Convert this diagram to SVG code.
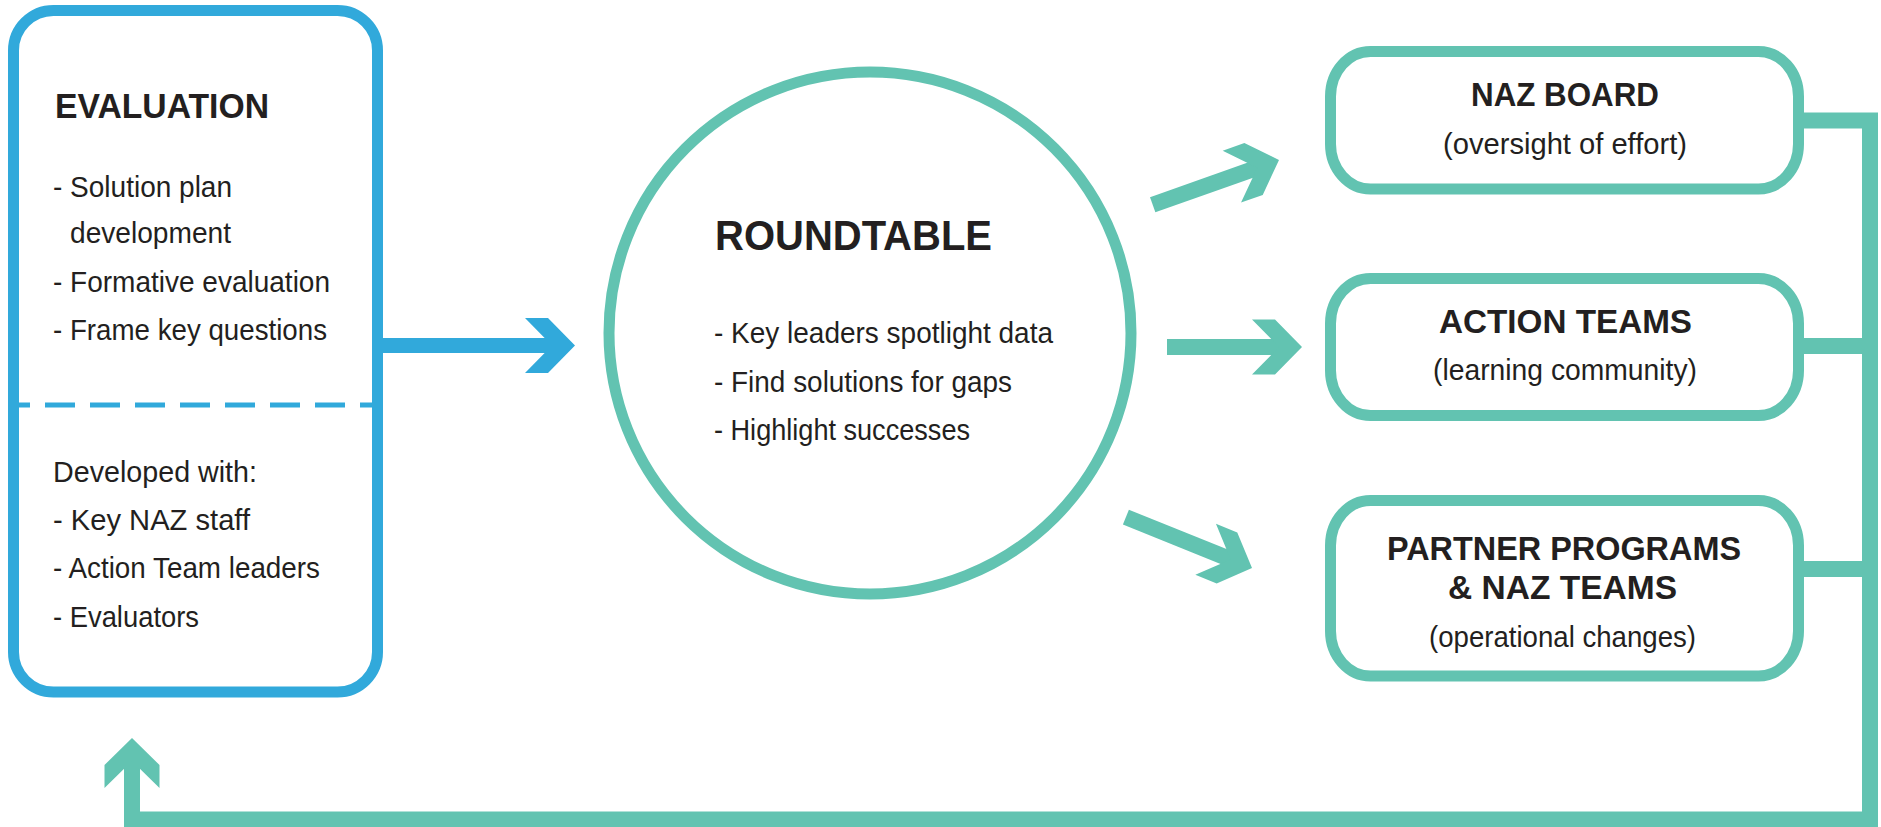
<svg xmlns="http://www.w3.org/2000/svg" xmlns:xlink="http://www.w3.org/1999/xlink" width="1881" height="827" viewBox="0 0 1881 827">
<style>
.bg{fill:#ffffff}
.blue{fill:none;stroke:#31a9db;stroke-width:11}
.teal{fill:none;stroke:#62c3b1;stroke-width:11}
.dash{fill:none;stroke:#31a9db;stroke-width:5;stroke-dasharray:30 15;stroke-dashoffset:19}
.head{font-family:"Liberation Sans",Arial,sans-serif;font-weight:bold;fill:#231f20}
.body{font-family:"Liberation Sans",Arial,sans-serif;font-size:29px;fill:#231f20}
.mid{text-anchor:middle}
.shaftT{fill:none;stroke:#62c3b1;stroke-width:16;stroke-linejoin:miter}
.shaftB{fill:none;stroke:#31a9db;stroke-width:15}
.chevT{fill:#62c3b1}
.chevB{fill:#31a9db}
</style>
<defs>
<path id="chev" d="M -50 -27.5 L -27 -27.5 L 0 0 L -27 27.5 L -50 27.5 L -23 0 Z"/>
</defs>
<rect class="bg" x="0" y="0" width="1881" height="827"/>

<g id="connectors">
  <!-- Evaluation to Roundtable -->
  <line class="shaftB" x1="378" y1="345.5" x2="553" y2="345.5"/>
  <use xlink:href="#chev" href="#chev" class="chevB" transform="translate(575,345.5)"/>
  <!-- Roundtable to NAZ Board -->
  <g transform="translate(1279,160) rotate(-19.5)">
    <line class="shaftT" x1="-134" y1="0" x2="-22" y2="0"/>
    <use xlink:href="#chev" href="#chev" class="chevT"/>
  </g>
  <!-- Roundtable to Action Teams -->
  <g transform="translate(1302,347)">
    <line class="shaftT" x1="-135" y1="0" x2="-22" y2="0"/>
    <use xlink:href="#chev" href="#chev" class="chevT"/>
  </g>
  <!-- Roundtable to Partner Programs -->
  <g transform="translate(1252,568) rotate(22)">
    <line class="shaftT" x1="-136" y1="0" x2="-22" y2="0"/>
    <use xlink:href="#chev" href="#chev" class="chevT"/>
  </g>
  <!-- Feedback loop -->
  <polyline class="shaftT" points="1799,120.5 1870,120.5 1870,819.5 132,819.5 132,760"/>
  <line class="shaftT" x1="1799" y1="346" x2="1870" y2="346"/>
  <line class="shaftT" x1="1799" y1="569" x2="1870" y2="569"/>
  <use xlink:href="#chev" href="#chev" class="chevT" transform="translate(132,738) rotate(-90)"/>
</g>

<g id="evaluation">
  <rect class="blue" x="13.5" y="10.5" width="364" height="681.5" rx="40" ry="40"/>
  <line class="dash" x1="19" y1="405" x2="377" y2="405"/>
  <text class="head" x="55" y="118" font-size="35" textLength="214" lengthAdjust="spacingAndGlyphs">EVALUATION</text>
  <text class="body" x="53" y="197" textLength="179" lengthAdjust="spacingAndGlyphs">- Solution plan</text>
  <text class="body" x="70" y="243" textLength="161" lengthAdjust="spacingAndGlyphs">development</text>
  <text class="body" x="53" y="292" textLength="277" lengthAdjust="spacingAndGlyphs">- Formative evaluation</text>
  <text class="body" x="53" y="340" textLength="274" lengthAdjust="spacingAndGlyphs">- Frame key questions</text>
  <text class="body" x="53" y="482" textLength="204" lengthAdjust="spacingAndGlyphs">Developed with:</text>
  <text class="body" x="53" y="530" textLength="197" lengthAdjust="spacingAndGlyphs">- Key NAZ staff</text>
  <text class="body" x="53" y="578" textLength="267" lengthAdjust="spacingAndGlyphs">- Action Team leaders</text>
  <text class="body" x="53" y="627" textLength="146" lengthAdjust="spacingAndGlyphs">- Evaluators</text>
</g>

<g id="roundtable">
  <circle class="teal" cx="870" cy="333" r="261"/>
  <text class="head" x="715" y="250" font-size="43" textLength="277" lengthAdjust="spacingAndGlyphs">ROUNDTABLE</text>
  <text class="body" x="714" y="343" textLength="339" lengthAdjust="spacingAndGlyphs">- Key leaders spotlight data</text>
  <text class="body" x="714" y="392" textLength="298" lengthAdjust="spacingAndGlyphs">- Find solutions for gaps</text>
  <text class="body" x="714" y="440" textLength="256" lengthAdjust="spacingAndGlyphs">- Highlight successes</text>
</g>

<g id="naz-board">
  <rect class="teal" x="1330.5" y="51.5" width="468" height="137.5" rx="40" ry="45"/>
  <text class="head mid" x="1565" y="106" font-size="33.5" textLength="188" lengthAdjust="spacingAndGlyphs">NAZ BOARD</text>
  <text class="body mid" x="1565" y="154" textLength="244" lengthAdjust="spacingAndGlyphs">(oversight of effort)</text>
</g>

<g id="action-teams">
  <rect class="teal" x="1330.5" y="278.5" width="468" height="137" rx="40" ry="45"/>
  <text class="head mid" x="1565.5" y="333" font-size="33.5" textLength="253" lengthAdjust="spacingAndGlyphs">ACTION TEAMS</text>
  <text class="body mid" x="1565" y="380" textLength="264" lengthAdjust="spacingAndGlyphs">(learning community)</text>
</g>

<g id="partner-programs">
  <rect class="teal" x="1330.5" y="500.5" width="468" height="175.5" rx="40" ry="45"/>
  <text class="head mid" x="1564" y="560" font-size="33.5" textLength="354" lengthAdjust="spacingAndGlyphs">PARTNER PROGRAMS</text>
  <text class="head mid" x="1562.5" y="599" font-size="33.5" textLength="229" lengthAdjust="spacingAndGlyphs">&amp; NAZ TEAMS</text>
  <text class="body mid" x="1562.5" y="647" textLength="267" lengthAdjust="spacingAndGlyphs">(operational changes)</text>
</g>
</svg>
